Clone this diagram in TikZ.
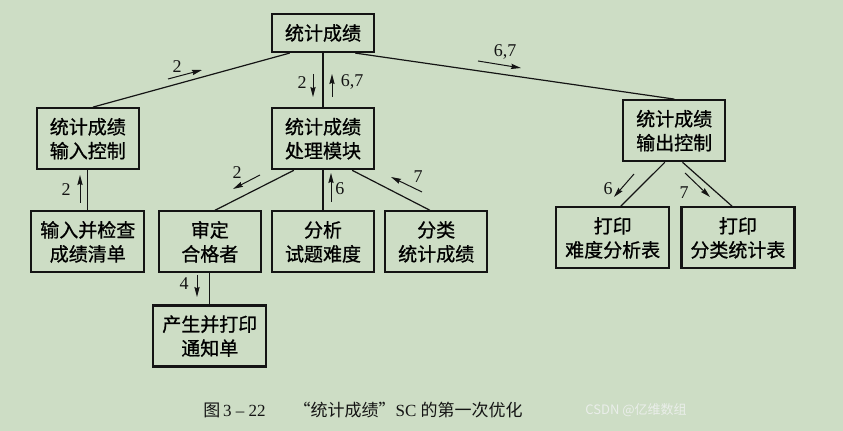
\documentclass[tikz,border=0pt]{standalone}
\usepackage{fontspec}
\setmainfont{Liberation Serif}
\newfontfamily\cjk{Noto Sans CJK SC}
\newfontfamily\cjkbox[FakeBold=0.9]{Noto Sans CJK SC}
\usepackage{xcolor}
\definecolor{paper}{RGB}{205,221,197}
\definecolor{ink}{RGB}{20,20,20}
\definecolor{wmark}{RGB}{234,238,234}
\usetikzlibrary{arrows.meta,positioning,calc}

\begin{document}
\begin{tikzpicture}[
  x=0.5pt,y=-0.5pt,
  mbox/.style={rectangle,draw=ink,line width=1.1pt,minimum width=51pt,minimum height=30.5pt,inner sep=0pt,align=center,font=\cjkbox\fontsize{9.5}{12}\selectfont},
  wbox/.style={mbox,minimum width=56.5pt},
  tbox/.style={mbox,minimum height=19pt},
  link/.style={draw=ink,line width=0.6pt},
  flow/.style={-{Stealth[length=5pt,width=2.6pt,inset=0.6pt]},ink,line width=0.5pt},
  num/.style={inner sep=0pt,font=\fontsize{9}{10}\selectfont,text=ink}
]
  % === background ===
  \fill[paper] (0,0) rectangle (843,431);

  % === Top module ===
  \node[tbox] (sc) at (323,33) {统计成绩};

  % === Second level ===
  \node[mbox,below=27pt of sc] (proc) {统计成绩\\处理模块};
  \node[mbox,left=65.5pt of proc] (inctl) {统计成绩\\输入控制};
  \node[mbox,right=123.5pt of proc,yshift=4pt] (outctl) {统计成绩\\输出控制};

  % === Third level ===
  \node[wbox,below=20pt of inctl] (chk) {输入并检查\\成绩清单};
  \node[mbox,below=20pt of proc] (anl) {分析\\试题难度};
  \node[mbox,left=4.5pt of anl] (qual) {审定\\合格者};
  \node[mbox,right=4.5pt of anl] (cls) {分类\\统计成绩};
  \node[wbox,below=22pt of outctl,xshift=-30.75pt] (pdiff) {打印\\难度分析表};
  \node[wbox,right=5pt of pdiff] (pcls) {打印\\分类统计表};
  \node[wbox,below=15.5pt of qual] (note) {产生并打印\\通知单};

  % calls
  \draw[link] ($(sc.south west)!.18!(sc.south east)$) -- ($(inctl.north west)!.55!(inctl.north east)$);
  \draw[link] (sc) -- (proc);
  \draw[link] ($(sc.south west)!.81!(sc.south east)$) -- (outctl.north);
  \draw[link] (inctl) -- (chk);
  \draw[link] ($(proc.south west)!.22!(proc.south east)$) -- ($(qual.north west)!.55!(qual.north east)$);
  \draw[link] (proc) -- (anl);
  \draw[link] ($(proc.south west)!.78!(proc.south east)$) -- ($(cls.north west)!.44!(cls.north east)$);
  \draw[link] (qual) -- (note);
  \draw[link] ($(outctl.south west)!.41!(outctl.south east)$) -- ($(pdiff.north west)!.57!(pdiff.north east)$);
  \draw[link] ($(outctl.south west)!.58!(outctl.south east)$) -- ($(pcls.north west)!.45!(pcls.north east)$);

  % data flow marks
  \draw[flow] (168,79) -- (202,70);
  \node[num] (f1) at (177,67) {2};
  \draw[flow] (313,74) -- (313,97);
  \node[num] (f2) at (302,83) {2};
  \draw[flow] (332,97) -- (332,74);
  \node[num] (f3) at (352,82) {6,7};
  \draw[flow] (478,61) -- (521,68);
  \node[num] (f4) at (505,52) {6,7};
  \draw[flow] (80,203) -- (80,175);
  \node[num] (f5) at (66,190) {2};
  \draw[flow] (260,175) -- (233,189);
  \node[num] (f6) at (237,173) {2};
  \draw[flow] (331,202) -- (331,173);
  \node[num] (f7) at (340,189) {6};
  \draw[flow] (422,192) -- (391,177);
  \node[num] (f8) at (418,177) {7};
  \draw[flow] (197,275) -- (197,297);
  \node[num] (f9) at (184,284) {4};
  \draw[flow] (634,174) -- (614,197);
  \node[num] (f10) at (608,189) {6};
  \draw[flow] (685,173) -- (710,197);
  \node[num] (f11) at (684,193) {7};

  % === caption ===
  \node[font=\fontsize{8.5}{10}\selectfont,text=ink] (cap) at (363,410) {{\cjk 图}\,3 – 22\hspace{14pt}{\cjk “统计成绩”}SC {\cjk 的第一次优化}};
  \node[font=\cjk\fontsize{6.5}{8}\selectfont,text=wmark] (wm) at (636,410) {CSDN @亿维数组};
\end{tikzpicture}
\end{document}
